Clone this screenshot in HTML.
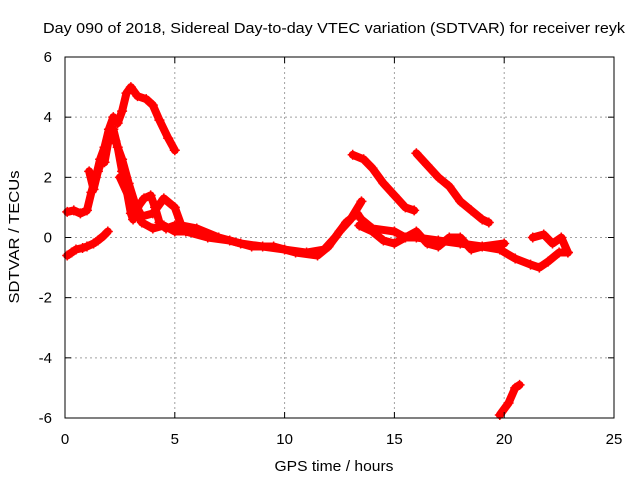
<!DOCTYPE html>
<html><head><meta charset="utf-8"><style>
body{margin:0;background:#fff}
svg{display:block;font-family:"Liberation Sans",Arial,sans-serif}
</style></head><body>
<svg width="640" height="480" viewBox="0 0 640 480">
<g id="grid"></g>
<g id="series"></g>
<rect x="65" y="57" width="549" height="361" fill="none" stroke="#000" stroke-width="1"/>
<g id="ticks"></g>
<text x="334" y="33" text-anchor="middle" font-size="15" textLength="582" lengthAdjust="spacingAndGlyphs">Day 090 of 2018, Sidereal Day-to-day VTEC variation (SDTVAR) for receiver reyk</text>
<text x="334" y="471" text-anchor="middle" font-size="15" textLength="119" lengthAdjust="spacingAndGlyphs">GPS time / hours</text>
<text transform="translate(19,237) rotate(-90)" text-anchor="middle" font-size="15" textLength="133" lengthAdjust="spacingAndGlyphs">SDTVAR / TECUs</text>
</svg>
<script>
const xTicks=[0,5,10,15,20,25];
const yTicks=[-6,-4,-2,0,2,4,6];
const trackA=[[0.1,-0.6],[0.3,-0.5],[0.5,-0.4],[0.8,-0.35],[1.0,-0.3],[1.3,-0.2],[1.5,-0.1],[1.75,0.05],[1.95,0.2]];
const trackB=[[0.1,0.85],[0.4,0.9],[0.7,0.8],[1.0,0.9],[1.2,1.5],[1.4,2.0],[1.6,2.6],[1.8,3.0],[2.0,3.6],[2.2,4.0],[2.4,3.8],[2.6,4.2],[2.8,4.8],[3.0,5.0],[3.3,4.7],[3.7,4.6],[4.0,4.4],[4.3,3.9],[4.7,3.3],[5.0,2.9]];
const trackC=[[1.1,2.2],[1.3,1.6],[1.5,2.2],[1.8,2.8],[2.0,3.4],[2.2,3.6],[2.4,3.0],[2.6,2.2],[2.8,1.6],[3.0,0.8],[3.1,0.6],[3.3,1.0],[3.6,1.3],[3.9,1.4],[4.1,1.0],[4.3,0.5],[4.6,0.3],[5.0,0.4]];
const trackD=[[1.8,2.5],[2.0,3.3],[2.3,3.2],[2.6,2.6],[2.9,1.8],[3.2,1.1],[3.5,0.7],[4.0,0.8],[4.5,1.3],[5.0,1.0],[5.3,0.4],[6,0.3],[7,0.0],[8,-0.2],[9,-0.3],[10,-0.4],[11,-0.5],[11.8,-0.4],[12.3,0.0],[12.8,0.5],[13.3,0.8],[13.5,0.6],[14,0.3],[15,0.2],[15.5,0.0],[16,0.0],[17,-0.1],[18,-0.2],[19,-0.3],[19.8,-0.4],[20.5,-0.7],[21.2,-0.9],[21.6,-1.0],[22,-0.8],[22.5,-0.5],[22.9,-0.5]];
const trackE=[[2.5,2.0],[3.0,1.2],[3.5,0.5],[4,0.3],[4.5,0.4],[5,0.2],[5.5,0.2],[6.5,0.0],[7.5,-0.1],[8.5,-0.3],[9.5,-0.3],[10.5,-0.5],[11.5,-0.6],[12,-0.3],[12.5,0.2],[13,0.6],[13.5,1.2]];
const trackE2=[[13.4,0.4],[14,0.2],[14.5,-0.1],[15,-0.2],[15.5,0.0],[16,0.2],[16.5,-0.2],[17,-0.3],[17.5,0.0],[18,0.0],[18.5,-0.4],[19,-0.3],[20,-0.2]];
const trackF=[[13.1,2.75],[13.6,2.6],[14,2.3],[14.5,1.8],[15,1.4],[15.5,1.0],[15.9,0.9]];
const trackG=[[16,2.8],[16.5,2.4],[17,2.0],[17.5,1.7],[18,1.2],[18.5,0.9],[19,0.6],[19.3,0.5]];
const trackH=[[19.8,-5.9],[20.2,-5.5],[20.5,-5.0],[20.7,-4.9]];
const trackI=[[21.3,0.0],[21.8,0.1],[22.2,-0.2],[22.6,0.0],[22.9,-0.5]];
const tracks=[trackA,trackB,trackC,trackD,trackE,trackE2,trackF,trackG,trackH,trackI];

const NS="http://www.w3.org/2000/svg";
const X0=65,X1=614,Y0=418,Y1=57;
const sx=t=>X0+(t-0)/(25-0)*(X1-X0);
const sy=v=>Y0-(v+6)/12*(Y0-Y1);
function mk(tag,attrs,parent){const e=document.createElementNS(NS,tag);for(const k in attrs)e.setAttribute(k,attrs[k]);parent.appendChild(e);return e;}
const grid=document.getElementById('grid'),ticks=document.getElementById('ticks'),ser=document.getElementById('series');
xTicks.forEach(t=>{const x=sx(t);
 if(t>0&&t<25){const g=mk('line',{x1:x,x2:x,y1:Y1,y2:Y0,stroke:'#a0a0a0','stroke-dasharray':'2,3'},grid);
 }
 mk('line',{x1:x,x2:x,y1:Y0,y2:Y0-6,stroke:'#000'},ticks);
 mk('line',{x1:x,x2:x,y1:Y1,y2:Y1+6,stroke:'#000'},ticks);
 const l=mk('text',{x:x,y:444,'text-anchor':'middle','font-size':'15'},ticks);l.textContent=t;
 });
yTicks.forEach(v=>{const y=sy(v);
 if(v>-6&&v<6){const g=mk('line',{x1:X0,x2:X1,y1:y,y2:y,stroke:'#a0a0a0','stroke-dasharray':'2,3'},grid);
 }
 mk('line',{x1:X0,x2:X0+6,y1:y,y2:y,stroke:'#000'},ticks);
 mk('line',{x1:X1,x2:X1-6,y1:y,y2:y,stroke:'#000'},ticks);
 const l=mk('text',{x:52,y:y+5,'text-anchor':'end','font-size':'15'},ticks);l.textContent=v;
 });
tracks.forEach((tr,i)=>{
 const p=mk('polyline',{points:tr.map(d=>sx(d[0])+','+sy(d[1])).join(' '),fill:'none',stroke:'#ff0000','stroke-width':'8','stroke-linejoin':'round','stroke-linecap':'round'},ser);
 
 
 tr.forEach(d=>{const x=sx(d[0]),y=sy(d[1]);
  const m=mk('path',{d:`M${x-5},${y}H${x+5}M${x},${y-5}V${y+5}`,stroke:'#ff0000','stroke-width':'1.5'},ser);
  
  });
});
</script>
</body></html>
